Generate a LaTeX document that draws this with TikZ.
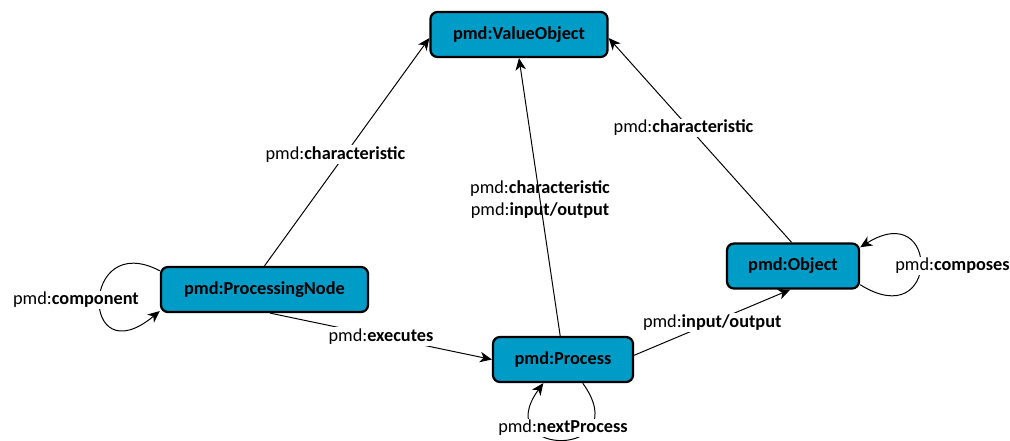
\documentclass[tikz,border=0pt]{standalone}
\usepackage{fontspec}
\setmainfont{Carlito}
\usetikzlibrary{arrows.meta}
\definecolor{pmdblue}{RGB}{0,156,200}
\newcommand{\pmdb}[1]{pmd:\textbf{#1}}
\tikzset{
  cls/.style={draw=black, line width=1.6pt, fill=pmdblue, rounded corners=5pt, minimum height=1.125cm, inner sep=0pt, font=\fontsize{13}{15.6}\selectfont\bfseries},
  rel/.style={-{Stealth[length=8.5pt,width=7.5pt,inset=2.5pt]}, line width=0.7pt},
  lbl/.style={fill=white, inner sep=1pt, font=\fontsize{13}{15.6}\selectfont}
}

\begin{document}
\begin{tikzpicture}[x=0.025cm,y=-0.025cm]
  \useasboundingbox (0,0) rectangle (1010,440);
  \node[cls, minimum width=4.425cm] (vo) at (519,34.5) {pmd:ValueObject};
  \node[cls, minimum width=5.175cm] (pn) at (264.5,289.5) {pmd:ProcessingNode};
  \node[cls, minimum width=3.5cm] (pr) at (563,359.5) {pmd:Process};
  \node[cls, minimum width=3.3cm] (ob) at (793,266) {pmd:Object};
  \draw[rel] (pn.north) -- ([yshift=-2.5pt]vo.west) node[lbl, pos=0.49, xshift=-7pt] {\pmdb{characteristic}};
  \draw[rel] ([xshift=-2pt]pr.north) -- (vo.south) node[lbl, fill=none, align=center, pos=0.49] {\pmdb{characteristic}\\\pmdb{input/output}};
  \draw[rel] ([xshift=-1pt]ob.north) -- ([yshift=-2.5pt]vo.east) node[lbl, pos=0.56, xshift=-4pt] {\pmdb{characteristic}};
  \draw[rel] ([xshift=4pt]pn.south) -- (pr.west) node[lbl, pos=0.5] {\pmdb{executes}};
  \draw[rel] ([yshift=3pt]pr.east) -- ([xshift=-2pt]ob.south) node[lbl, pos=0.5] {\pmdb{input/output}};
  \draw[rel] ([yshift=-3.5pt]pn.north west) .. controls +(-80,-42) and +(-80,66) .. ([yshift=1.5pt]pn.south west) node[lbl, pos=0.5, xshift=-17pt] {\pmdb{component}};
  \draw[rel] ([yshift=3.5pt]ob.south east) .. controls +(80,50) and +(80,-50) .. ([yshift=-3.5pt]ob.north east) node[lbl, pos=0.5, xshift=23pt] {\pmdb{composes}};
  \draw[rel] ([xshift=14pt]pr.south) .. controls +(55,76) and +(-55,75) .. ([xshift=-14pt]pr.south) node[lbl, pos=0.5, yshift=8.5pt] {\pmdb{nextProcess}};
\end{tikzpicture}
\end{document}
